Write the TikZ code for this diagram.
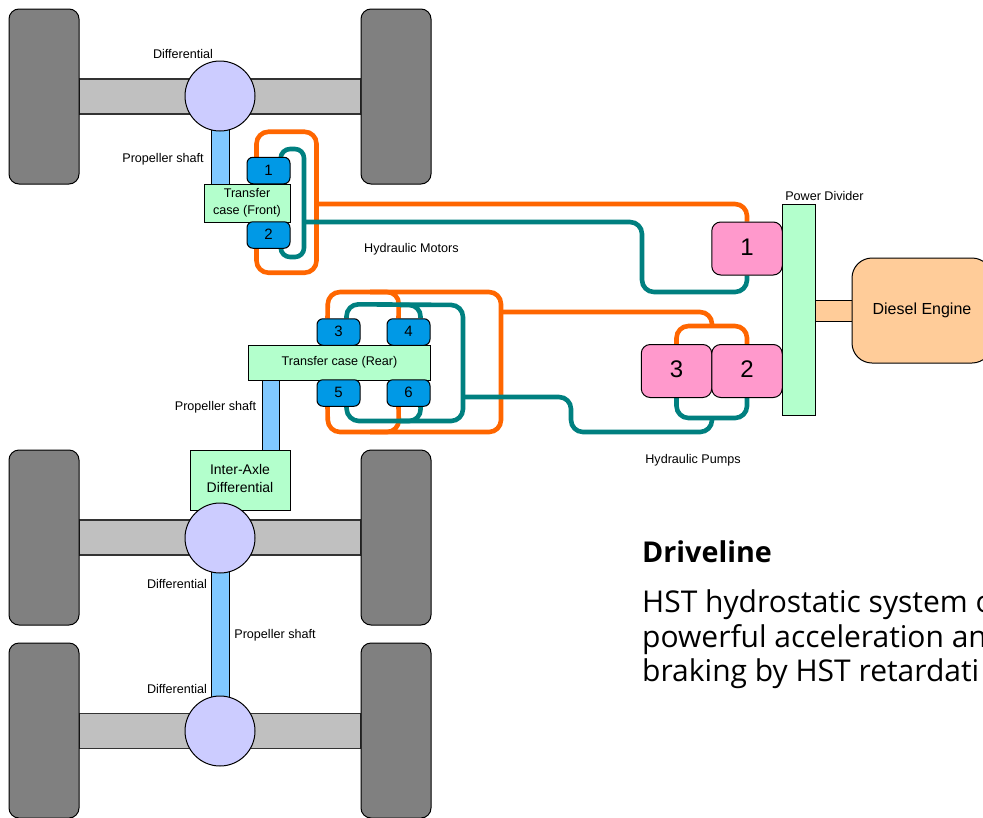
\documentclass[tikz,border=0pt]{standalone}
\usepackage{fontspec}
\setmainfont{Liberation Sans}
\newfontfamily\drivefont{Open Sans}
\usetikzlibrary{calc}
\pgfdeclarelayer{lines}
\pgfsetlayers{lines,main}
\tikzset{
  blk/.style={draw=black,line width=1pt,inner sep=0pt,align=center,text=black},
  wheel/.style={blk,fill=wheelgray,rounded corners=10pt,minimum width=70pt,minimum height=175pt},
  axle/.style={blk,draw=black!80,line width=1.3pt,fill=axlegray,minimum width=282pt,minimum height=35pt},
  diff/.style={blk,fill=difflilac,circle,minimum size=70pt},
  shaft/.style={blk,fill=shaftblue},
  green box/.style={blk,fill=mint},
  motor/.style={blk,fill=portblue,rounded corners=6pt,minimum width=43pt,minimum height=26.5pt,font=\fontsize{15}{15}\selectfont},
  pump/.style={blk,fill=pumppink,rounded corners=9pt,minimum width=70.5pt,minimum height=53pt,font=\fontsize{24}{24}\selectfont},
  lbl/.style={inner sep=0pt,font=\fontsize{12.6}{14}\selectfont,text=black},
  oil/.style={draw=oilorange,line width=4.6pt,rounded corners=12pt},
  tealline/.style={draw=oilteal,line width=4.6pt,rounded corners=12pt},
  headline/.style={anchor=base west,inner sep=0pt,font=\drivefont\fontsize{28.7}{30}\selectfont\bfseries,text=black},
  bodyline/.style={anchor=base west,inner sep=0pt,font=\drivefont\fontsize{30}{30}\selectfont,text=black},
}
\definecolor{wheelgray}{HTML}{808080}
\definecolor{axlegray}{HTML}{C0C0C0}
\definecolor{difflilac}{HTML}{CCCCFF}
\definecolor{shaftblue}{HTML}{80C8FF}
\definecolor{mint}{HTML}{B3FFCC}
\definecolor{portblue}{HTML}{0099E6}
\definecolor{pumppink}{HTML}{FF99CC}
\definecolor{peach}{HTML}{FFCC99}
\definecolor{oilorange}{HTML}{FF6600}
\definecolor{oilteal}{HTML}{008080}
\begin{document}
\begin{tikzpicture}[x=1pt,y=-1pt]
\useasboundingbox (0,0) rectangle (983,817);

% axles
\node[axle] (axleA) at (220,96.5) {};
\node[axle] (axleB) at (220,537.5) {};
\node[axle] (axleC) at (220,731) {};
% wheels
\node[wheel] (wAL) at (44,96.5) {};
\node[wheel] (wAR) at (396,96.5) {};
\node[wheel] (wBL) at (44,537.5) {};
\node[wheel] (wBR) at (396,537.5) {};
\node[wheel] (wCL) at (44,730.5) {};
\node[wheel] (wCR) at (396,730.5) {};
% shafts
\node[shaft,minimum width=18pt,minimum height=56pt] (shA) at (220,156) {};
\node[shaft,minimum width=17pt,minimum height=72pt] (shB) at (271,415) {};
\node[shaft,minimum width=18pt,minimum height=134pt] (shC) at (220,635) {};
\node[blk,fill=peach,minimum width=37pt,minimum height=21pt] (engsh) at (833.5,310.5) {};
% differentials
\node[green box,minimum width=100pt,minimum height=60pt,font=\fontsize{14}{18}\selectfont] (inter) at (240,480) {\raisebox{4pt}{\begin{tabular}{@{}c@{}}Inter-Axle\\[0pt]Differential\end{tabular}}};
\node[diff] (dA) at (220,96) {};
\node[diff] (dB) at (220,538) {};
\node[diff] (dC) at (220,731) {};
% transfer cases
\node[green box,minimum width=86pt,minimum height=38pt,font=\fontsize{12.6}{16}\selectfont] (tf) at (247,203) {\raisebox{2.5pt}{\begin{tabular}{@{}c@{}}Transfer\\[1.5pt]case (Front)\end{tabular}}};
\node[green box,minimum width=182pt,minimum height=35pt,font=\fontsize{12.6}{14}\selectfont] (tr) at (339.5,362.5) {\raisebox{1pt}{Transfer case (Rear)}};
% ports
\node[motor] (m1) at (268.5,170.5) {\raisebox{1pt}{1}};
\node[motor] (m2) at (268.5,235) {\raisebox{1pt}{2}};
\node[motor] (m3) at (338.5,332) {\raisebox{1pt}{3}};
\node[motor] (m4) at (408.5,332) {\raisebox{1pt}{4}};
\node[motor] (m5) at (338.5,393) {\raisebox{1pt}{5}};
\node[motor] (m6) at (408.5,393) {\raisebox{1pt}{6}};
% pumps
\node[pump] (p1) at (747,248.5) {\raisebox{3.5pt}{1}};
\node[pump] (p3) at (676.5,371) {\raisebox{3.5pt}{3}};
\node[pump] (p2) at (747,371) {\raisebox{3.5pt}{2}};
\node[green box,minimum width=33pt,minimum height=211pt] (pd) at (798.5,309.5) {};
\node[blk,fill=peach,rounded corners=20pt,minimum width=140pt,minimum height=105pt,font=\fontsize{16}{18}\selectfont] (eng) at (922,310.5) {Diesel Engine};

% hydraulic lines
\begin{pgfonlayer}{lines}
% front motors, orange
\draw[oil] ($(m1.north west)+(10,0)$) -- ++(0,-25) -- ++(60,0) -- ++(0,141) -- ++(-60,0) -- ($(m2.south west)+(10,0)$);
\draw[oil,rounded corners=12pt] (317,204) -- (747,204) -- (p1.north);
% rear ports, orange
\draw[oil] ($(m3.north west)+(11,0)$) -- (328,292) -- (399,292) -- ($(m4.north west)+(12,0)$);
\draw[oil] ($(m5.south west)+(11,0)$) -- (328,432) -- (399,432) -- ($(m6.south west)+(12,0)$);
\draw[oil] (370,292) -- (501,292) -- (501,432) -- (370,432);
\draw[oil] (501,312) -- (712,312) -- (712,325);
\draw[oil] (p3.north) -- (676.5,326) -- (747,326) -- (p2.north);
% front motors, teal
\draw[tealline,rounded corners=9pt] ($(m1.east)+(-10,-5)$) -- (281,149) -- (304,149) -- (304,257) -- (281,257) -- ($(m2.east)+(-10,5)$);
\draw[tealline] (304,222) -- (642,222) -- (642,292) -- (747,292) -- (p1.south);
% rear ports, teal
\draw[tealline] (m3.north) ++(8,0) -- ++(0,-14) -- (463,305) -- (463,421) -- (347,421) -- ($(m5.south)+(8,0)$);
\draw[tealline] (400,305) -- (421,305) -- ($(m4.north)+(12,0)$);
\draw[tealline] (400,421) -- (421,421) -- ($(m6.south)+(12,0)$);
\draw[tealline] (463,397) -- (571,397) -- (571,432) -- (712,432) -- (712,418);
\draw[tealline] (p3.south) -- (676.5,418) -- (747,418) -- (p2.south);
\end{pgfonlayer}

% labels
\node[lbl] (l1) at (183,53.6) {Differential};
\node[lbl] (l2) at (163,159.6) {Propeller shaft};
\node[lbl] (l3) at (411.5,249.6) {Hydraulic Motors};
\node[lbl] (l4) at (824.5,195.6) {Power Divider};
\node[lbl] (l5) at (215.5,407.6) {Propeller shaft};
\node[lbl] (l6) at (693,460.6) {Hydraulic Pumps};
\node[lbl] (l7) at (177,583.6) {Differential};
\node[lbl] (l8) at (275,635.6) {Propeller shaft};
\node[lbl] (l9) at (177,688.6) {Differential};

% caption
\node[headline] (cap) at (642,562) {Driveline};
\node[bodyline] (b1) at (642,612) {HST hydrostatic system o};
\node[bodyline] (b2) at (642,647) {powerful acceleration an};
\node[bodyline] (b3) at (642,681) {braking by HST retardati};
\end{tikzpicture}
\end{document}
